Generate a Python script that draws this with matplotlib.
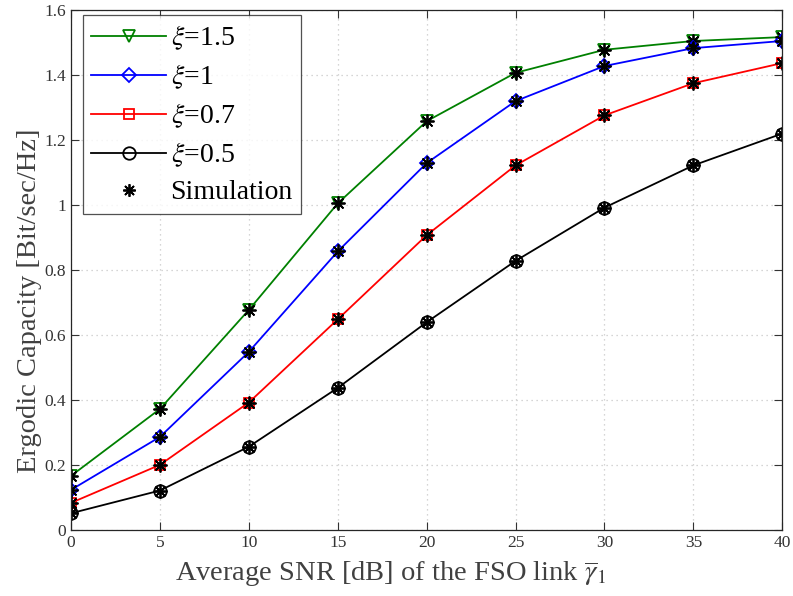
import matplotlib
matplotlib.use("Agg")
import matplotlib.pyplot as plt

plt.rcParams['font.family'] = ['Liberation Serif', 'DejaVu Serif']
plt.rcParams['mathtext.fontset'] = 'stix'

# average SNR of the FSO link (dB)
snr_db = [0, 5, 10, 15, 20, 25, 30, 35, 40]

# ergodic capacity for each xi
cap_xi_15 = [0.166, 0.372, 0.677, 1.005, 1.258, 1.407, 1.478, 1.505, 1.517]
cap_xi_1 = [0.123, 0.286, 0.548, 0.857, 1.129, 1.320, 1.428, 1.483, 1.505]
cap_xi_07 = [0.083, 0.200, 0.392, 0.648, 0.907, 1.122, 1.276, 1.375, 1.437]
cap_xi_05 = [0.051, 0.121, 0.256, 0.437, 0.639, 0.828, 0.992, 1.122, 1.220]

series_labels = [r'$\xi$=1.5', r'$\xi$=1', r'$\xi$=0.7', r'$\xi$=0.5']
colors = ['#008000', '#0000ff', '#ff0000', '#000000']
markers = ['v', 'D', 's', 'o']
msizes = [9, 7, 7, 9]

fig = plt.figure(figsize=(7.93, 5.96), dpi=100)
ax = fig.add_axes([0.0895, 0.111, 0.897, 0.872])

asterisk = (8, 2, 0)
for vals, lab, c, m, ms in zip([cap_xi_15, cap_xi_1, cap_xi_07, cap_xi_05],
                               series_labels, colors, markers, msizes):
    ax.plot(snr_db, vals, color=c, marker=m, markersize=ms, markerfacecolor='none',
            markeredgewidth=1.3, linewidth=1.3, label=lab)
    ax.plot(snr_db, vals, linestyle='none', marker=asterisk, color='k',
            markersize=10, markeredgewidth=1.3)

# dummy handle so the simulation marker shows up once in the legend
ax.plot([], [], linestyle='none', marker=asterisk, color='k', markersize=9,
        markeredgewidth=1.3, label='Simulation')

ax.set_xlim(0, 40)
ax.set_ylim(0, 1.6)
ax.set_xticks(range(0, 41, 5))
ax.set_yticks([0, 0.2, 0.4, 0.6, 0.8, 1, 1.2, 1.4, 1.6])
ax.set_yticklabels(['0', '0.2', '0.4', '0.6', '0.8', '1', '1.2', '1.4', '1.6'])
ax.grid(True, linestyle=(0, (1, 3)), color='#c8c8c8', linewidth=0.9)
ax.tick_params(direction='in', top=True, right=True, labelsize=12.5,
               colors='#333333', length=6, width=0.8)
for s in ax.spines.values():
    s.set_color('#262626')
    s.set_linewidth(0.9)

ax.set_xlabel(r'Average SNR [dB] of the FSO link $\overline{\gamma}_1$',
              fontsize=20.5, color='#404040')
ax.set_ylabel('Ergodic Capacity [Bit/sec/Hz]', fontsize=20.5, color='#404040')
ax.xaxis.set_label_coords(0.45, -0.058, transform=ax.transAxes)
ax.yaxis.set_label_coords(-0.041, 0.44, transform=ax.transAxes)

leg = ax.legend(loc='upper left', bbox_to_anchor=(0.017, 0.99), fontsize=20,
                frameon=True, fancybox=False, edgecolor='#262626', borderpad=0.3,
                labelspacing=0.38, handlelength=2.7, handletextpad=0.15,
                borderaxespad=0)
leg.get_frame().set_linewidth(0.9)

plt.savefig('out.png', dpi=100)
plt.close()
